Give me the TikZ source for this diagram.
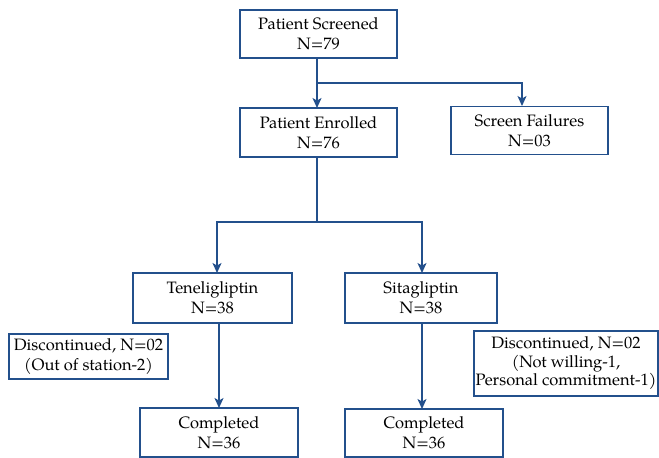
\documentclass[tikz,border=0pt]{standalone}
\usepackage{fontspec}
\setmainfont{TeX Gyre Pagella}
\usetikzlibrary{arrows.meta}
\definecolor{bl}{RGB}{35,80,140}
\tikzset{
  bx/.style={draw=bl, line width=1.4pt, inner sep=0pt, align=center, font=\fontsize{16.5}{20}\selectfont, text=black},
  conn/.style={draw=bl, line width=1.4pt},
  arr/.style={conn, -{Stealth[length=10pt,width=9pt,inset=2.5pt]}}
}
\begin{document}
\begin{tikzpicture}[x=1pt,y=-1pt]
\useasboundingbox (0,0) rectangle (659,458);
\node[bx, minimum width=157pt, minimum height=48pt] (screened) at (318.5,34) {Patient Screened\\N=79};
\node[bx, minimum width=157pt, minimum height=49pt] (enrolled) at (318.5,132.5) {Patient Enrolled\\N=76};
\node[bx, minimum width=157pt, minimum height=48pt] (fail) at (529.5,130.5) {Screen Failures\\N=03};
\node[bx, minimum width=159pt, minimum height=50pt] (ten) at (212.5,298) {Teneligliptin\\N=38};
\node[bx, minimum width=152pt, minimum height=50pt] (sita) at (421,298) {Sitagliptin\\N=38};
\node[bx, minimum width=159pt, minimum height=45pt] (discL) at (88.5,356.5) {Discontinued, N=02\\(Out of station-2)};
\node[bx, minimum width=184pt, minimum height=65pt, font=\fontsize{16.5}{18.5}\selectfont] (discR) at (566,363.5) {Discontinued, N=02\\(Not willing-1,\\Personal commitment-1)};
\node[bx, minimum width=158pt, minimum height=49pt] (compL) at (219,432.5) {Completed\\N=36};
\node[bx, minimum width=158pt, minimum height=48pt] (compR) at (424,433) {Completed\\N=36};
\coordinate (b1) at (317,83);
\coordinate (fa) at (522,106);
\coordinate (b2) at (317,222);
\coordinate (tl) at (217,273);
\coordinate (sr) at (422,273);
\draw[arr] (317,58) -- (317,108);
\draw[arr] (b1) -| (fa);
\draw[conn] (317,157) -- (b2);
\draw[arr] (b2) -| (tl);
\draw[arr] (b2) -| (sr);
\draw[arr] (219,323) -- (219,408);
\draw[arr] (422,323) -- (422,409);
\end{tikzpicture}
\end{document}
